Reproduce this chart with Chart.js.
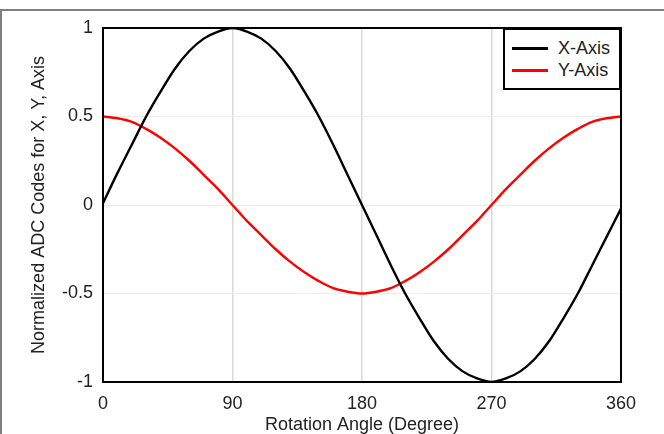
<!DOCTYPE html>
<html><head><meta charset="utf-8">
<script src="https://cdn.jsdelivr.net/npm/chart.js@4.4.1/dist/chart.umd.min.js"></script>
<style>
html,body{margin:0;padding:0;background:#fff;}
#wrap{position:relative;width:664px;height:434px;overflow:hidden;}
#frame{position:absolute;left:0;top:9px;width:700px;height:500px;border-left:2px solid #7f7f7f;border-top:2px solid #7f7f7f;box-sizing:border-box;pointer-events:none;}
canvas{position:absolute;left:0;top:0;}
#legend{position:absolute;left:503px;top:28px;width:118px;height:62px;border:2px solid #000;box-sizing:border-box;background:#fff;font-family:"Liberation Sans",Arial,sans-serif;font-size:18px;color:#222;}
.item{position:absolute;left:7px;height:20px;}
.item .ln{position:absolute;left:0;top:9px;width:36px;height:2.5px;}
.item .tx{position:absolute;left:46px;top:0;line-height:20px;white-space:nowrap;}
</style></head>
<body>
<div id="wrap">
<canvas id="c" width="664" height="434"></canvas>
<div id="frame"></div>
<div id="legend"></div>
</div>
<script>
const angles = [0,10,20,30,40,50,60,70,80,90,100,110,120,130,140,150,160,170,180,190,200,210,220,230,240,250,260,270,280,290,300,310,320,330,340,350,360];
const xAxisValues = [0.01,0.18,0.34,0.5,0.64,0.77,0.87,0.94,0.98,1,0.98,0.94,0.87,0.77,0.64,0.5,0.34,0.17,0,-0.17,-0.34,-0.5,-0.64,-0.77,-0.87,-0.94,-0.98,-1,-0.98,-0.94,-0.87,-0.77,-0.64,-0.5,-0.34,-0.18,-0.02];
const yAxisValues = [0.5,0.49,0.47,0.43,0.38,0.32,0.25,0.17,0.09,0,-0.09,-0.17,-0.25,-0.32,-0.38,-0.43,-0.47,-0.49,-0.5,-0.49,-0.47,-0.43,-0.38,-0.32,-0.25,-0.17,-0.09,0,0.09,0.17,0.25,0.32,0.38,0.43,0.47,0.49,0.5];
const seriesNames = ["X-Axis","Y-Axis"];
const seriesColors = ["#000000","#ff0000"];
const xTicks = [0,90,180,270,360];
const yTicks = [-1,-0.5,0,0.5,1];

const FONT = '"Liberation Sans", Arial, sans-serif';
const pts = v => angles.map((a,i)=>({x:a,y:v[i]}));

const leg = document.getElementById('legend');
seriesNames.forEach((n,i)=>{
  const d=document.createElement('div');d.className='item';d.style.top=(8+i*22)+'px';
  d.innerHTML='<div class="ln" style="background:'+seriesColors[i]+'"></div><div class="tx">'+n+'</div>';
  leg.appendChild(d);
});

const framePlugin = {
  id:'framePlugin',
  afterDatasetsDraw(chart){
    const {ctx, chartArea:a} = chart;
    ctx.save();ctx.strokeStyle='#000';ctx.lineWidth=2;
    ctx.strokeRect(a.left,a.top,a.right-a.left,a.bottom-a.top);
    ctx.restore();
  }
};

new Chart(document.getElementById('c'),{
  type:'line',
  data:{datasets:[
    {label:seriesNames[0],data:pts(xAxisValues),borderColor:seriesColors[0],borderWidth:2.4,pointRadius:0,tension:0.33,fill:false},
    {label:seriesNames[1],data:pts(yAxisValues),borderColor:seriesColors[1],borderWidth:2.4,pointRadius:0,tension:0.33,fill:false}
  ]},
  options:{
    responsive:false,animation:false,
    layout:{padding:{left:0,right:43,top:28,bottom:0}},
    plugins:{legend:{display:false},tooltip:{enabled:false}},
    scales:{
      x:{type:'linear',min:0,max:360,
        afterBuildTicks(s){s.ticks=xTicks.map(v=>({value:v}));},
        afterFit(s){s.height=52;},
        grid:{color:'#d9d9d9',lineWidth:1.5,drawTicks:false},
        border:{display:false},
        ticks:{color:'#222',font:{family:FONT,size:18,lineHeight:1},padding:13,maxRotation:0,callback:v=>String(v)},
        title:{display:true,text:'Rotation Angle (Degree)',color:'#222',font:{family:FONT,size:18,lineHeight:1},padding:{top:0,bottom:0}}
      },
      y:{min:-1,max:1,
        afterBuildTicks(s){s.ticks=yTicks.map(v=>({value:v}));},
        afterFit(s){s.width=103;},
        grid:{color:'#ececec',lineWidth:1,drawTicks:false},
        border:{display:false},
        ticks:{color:'#222',font:{family:FONT,size:18},padding:10,callback:v=>String(v)},
        title:{display:true,text:'Normalized ADC Codes for X, Y, Axis',color:'#222',font:{family:FONT,size:18,lineHeight:1},padding:{top:30,bottom:0}}
      }
    }
  },
  plugins:[framePlugin]
});
</script>
</body></html>
